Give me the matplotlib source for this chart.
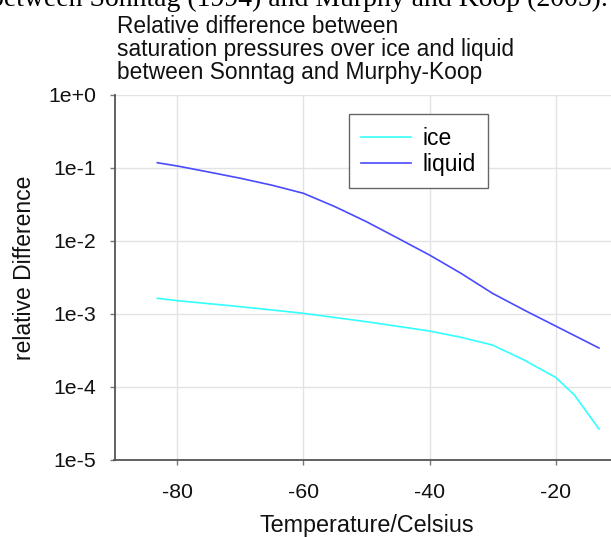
import numpy as np
import matplotlib
matplotlib.use("Agg")
import matplotlib.pyplot as plt
from matplotlib.ticker import FixedLocator, NullLocator

plt.rcParams['font.family'] = ['Liberation Sans', 'DejaVu Sans']

# values (log10 of relative difference)
temp_ice = [-83.2, -80, -70, -60, -50, -40, -35, -30, -25, -20, -17, -13.1]
log_ice = [-2.789, -2.822, -2.904, -2.995, -3.11, -3.237, -3.323, -3.429, -3.634, -3.871, -4.114, -4.579]

temp_liq = [-83.2, -80, -75, -70, -65, -60, -55, -50, -45, -40, -35, -30, -25, -20, -13.1]
log_liq = [-0.932, -0.977, -1.06, -1.145, -1.24, -1.351, -1.534, -1.74, -1.967, -2.196, -2.447,
           -2.721, -2.949, -3.168, -3.47]

yticks = [1e0, 1e-1, 1e-2, 1e-3, 1e-4, 1e-5]
ytick_labels = ["1e+0", "1e-1", "1e-2", "1e-3", "1e-4", "1e-5"]
xticks = [-80, -60, -40, -20]

W, H = 611, 537
fig = plt.figure(figsize=(W / 100, H / 100), dpi=100)

# pixel box of the plot area (right side runs off the picture)
left, right, top, bottom = 114.5, 618.5, 94.7, 459.7
ax = fig.add_axes([left / W, 1 - bottom / H, (right - left) / W, (bottom - top) / H])

ax.plot(temp_ice, 10 ** np.array(log_ice), color="#33ffff", lw=1.2, label="ice")
ax.plot(temp_liq, 10 ** np.array(log_liq), color="#4a4aff", lw=1.2, label="liquid")

ax.set_yscale("log")
ax.set_ylim(1e-5, 1e0)
ax.set_xlim(-90, -10)
ax.yaxis.set_major_locator(FixedLocator(yticks))
ax.yaxis.set_minor_locator(NullLocator())
ax.set_yticklabels(ytick_labels)
ax.set_xticks(xticks)
ax.set_xticklabels([str(t) for t in xticks])

ax.grid(True, color="#e3e3e3", lw=1.0)
ax.set_axisbelow(True)
for s in ["top", "right"]:
    ax.spines[s].set_visible(False)
for s in ["left", "bottom"]:
    ax.spines[s].set_color("#555555")
    ax.spines[s].set_linewidth(1.3)
ax.tick_params(axis="both", direction="out", length=3.5, width=1.0, color="#777777",
               labelsize=15.3, labelcolor="#111111")
ax.tick_params(axis="y", pad=10)
ax.tick_params(axis="x", pad=13)

ax.set_xlabel("Temperature/Celsius", fontsize=16.8, color="#111111", labelpad=9)
ax.set_ylabel("relative Difference", fontsize=16.5, color="#111111")
ax.yaxis.set_label_coords(-0.155, 0.526)

leg = ax.legend(loc="upper left",
                bbox_to_anchor=((348.7 - left) / (right - left), (bottom - 114.3) / (bottom - top)),
                fontsize=16.5, frameon=True, fancybox=False, framealpha=1,
                edgecolor="#666666", handlelength=2.15, handletextpad=0.5,
                borderpad=0.55, labelspacing=0.12, borderaxespad=0)
leg.get_frame().set_linewidth(1.0)

fig.text(117 / W, 1 - 15 / H,
         "Relative difference between\nsaturation pressures over ice and liquid\nbetween Sonntag and Murphy-Koop",
         ha="left", va="top", fontsize=16.4, color="#111111", linespacing=1.0)

# caption line of the surrounding document, cut by the top edge
fig.text(608 / W, 1 - 6 / H, "between Sonntag (1994) and Murphy and Koop (2005).",
         ha="right", va="baseline", fontsize=20, family="Liberation Serif", color="#000000")

fig.savefig("out.png", dpi=100)
